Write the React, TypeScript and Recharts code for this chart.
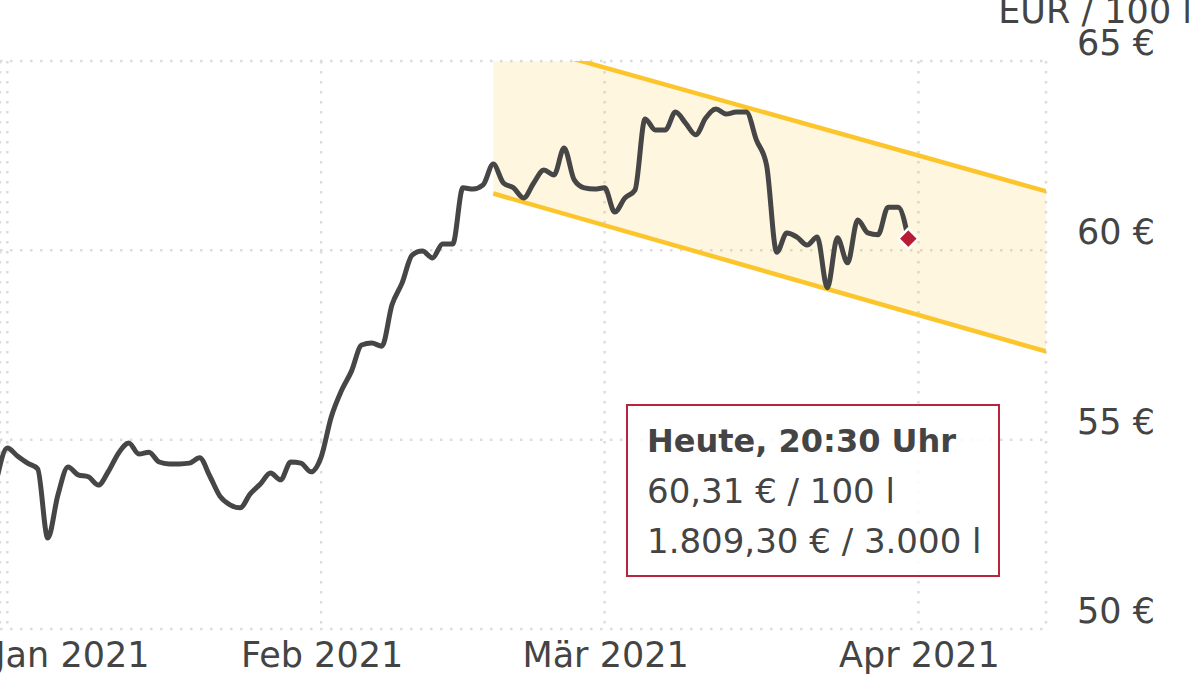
import React from "react";
import { ComposedChart, Line, Area, XAxis, YAxis, CartesianGrid, Tooltip } from "recharts";

// Tag 0 = 1. Jan 2021, eine Messung pro Tag
const firstDay = -1;
const prices = [
  54.0, 54.78, 54.57, 54.38, 54.23, 52.4, 53.54, 54.28, 54.07, 54.02,
  53.8, 54.17, 54.65, 54.91, 54.62, 54.67, 54.41, 54.36, 54.36, 54.38,
  54.52, 54.04, 53.51, 53.28, 53.2, 53.57, 53.83, 54.12, 53.94, 54.41,
  54.38, 54.15, 54.54, 55.6, 56.29, 56.81, 57.5, 57.55, 57.47, 58.56,
  59.14, 59.88, 59.98, 59.8, 60.17, 60.17, 61.65, 61.62, 61.73, 62.28,
  61.78, 61.65, 61.38, 61.78, 62.12, 61.99, 62.7, 61.86, 61.65, 61.62,
  61.65, 61.01, 61.38, 61.59, 63.47, 63.18, 63.18, 63.65, 63.36, 63.05,
  63.5, 63.73, 63.6, 63.65, 63.65, 62.91, 62.25, 59.95, 60.46, 60.35,
  60.14, 60.35, 59.01, 60.33, 59.67, 60.8, 60.46, 60.41, 61.14, 61.14,
  60.31,
];
const lastTime = "20:30";
const litres = 3000;

const monthTicks = [0, 31, 59, 90];
const monthLabels = ["Jan 2021", "Feb 2021", "Mär 2021", "Apr 2021"];
const priceTicks = [50, 55, 60, 65];

// Trendkanal
const channelDays = [48, 103];
const channelLow = [61.5, 57.3];
const channelHigh = [65.65, 61.53];

const FONT = "DejaVu Sans";
const TEXT = "#444";
const YELLOW = "#fcc52c";

const lastDay = firstDay + prices.length - 1;
const lastPrice = prices[prices.length - 1];

const rows: any[] = prices.map((price, i) => ({ day: firstDay + i, price }));
channelDays.forEach((day, i) => {
  let row = rows.find((r) => r.day === day);
  if (!row) {
    row = { day };
    rows.push(row);
  }
  row.low = channelLow[i];
  row.high = channelHigh[i];
  row.band = [channelLow[i], channelHigh[i]];
});
rows.sort((a, b) => a.day - b.day);
const lastIndex = rows.findIndex((r) => r.day === lastDay);

const fmt = (n: number, decimals: number) => {
  const [i, f] = n.toFixed(decimals).split(".");
  const int = i.replace(/\B(?=(\d{3})+(?!\d))/g, ".");
  return f ? int + "," + f : int;
};

const MonthTick = (props: any) => {
  const { x, y, payload } = props;
  const i = monthTicks.indexOf(payload.value);
  const first = i === 0;
  return (
    <text
      x={first ? x - 12 : x + 1}
      y={y + 38}
      textAnchor={first ? "start" : "middle"}
      fontSize={35}
      fontFamily={FONT}
      fill={TEXT}
    >
      {monthLabels[i]}
    </text>
  );
};

const PriceTick = (props: any) => {
  const { x, y, payload } = props;
  return (
    <text x={x + 31} y={y - 6} textAnchor="start" fontSize={35} fontFamily={FONT} fill={TEXT}>
      {payload.value} €
    </text>
  );
};

const UnitLabel = (props: any) => {
  const vb = props.viewBox || { x: 1046, y: 61 };
  return (
    <text x={vb.x + 146} y={vb.y - 38} textAnchor="end" fontSize={35} fontFamily={FONT} fill={TEXT}>
      EUR / 100 l
    </text>
  );
};

const LastDot = (props: any) => {
  const { cx, cy, payload, index } = props;
  if (!payload || payload.day !== lastDay || cx == null || cy == null) return <g key={index} />;
  const r = 10;
  return (
    <path
      key={index}
      d={`M${cx},${cy - r}L${cx + r},${cy}L${cx},${cy + r}L${cx - r},${cy}Z`}
      fill="#b71c33"
      stroke="#fff"
      strokeWidth={2.5}
    />
  );
};

const InfoBox = () => (
  <div
    style={{
      width: 374,
      height: 173,
      boxSizing: "border-box",
      border: "2px solid #b8243c",
      background: "rgba(255,255,255,0.82)",
      padding: "10px 19px",
      fontFamily: FONT,
      fontSize: 34,
      lineHeight: "50px",
      color: TEXT,
      whiteSpace: "nowrap",
    }}
  >
    <div style={{ fontWeight: "bold", fontSize: 32 }}>Heute, {lastTime} Uhr</div>
    <div>{fmt(lastPrice, 2)} € / 100 l</div>
    <div>
      {fmt((lastPrice * litres) / 100, 2)} € / {fmt(litres, 0)} l
    </div>
  </div>
);

export default function App() {
  return (
    <div style={{ position: "absolute", left: 0, top: 0 }}>
      <ComposedChart
        width={1200}
        height={688}
        data={rows}
        margin={{ top: 61, right: 0, bottom: 0, left: 0 }}
        style={{ fontFamily: FONT }}
      >
        <CartesianGrid stroke="#dcdcdc" strokeWidth={2.5} strokeDasharray="2.5 7.5" />
        <XAxis
          dataKey="day"
          type="number"
          domain={[-0.72, 102.6]}
          ticks={monthTicks}
          interval={0}
          allowDataOverflow
          axisLine={false}
          tickLine={false}
          tickSize={0}
          tickMargin={0}
          height={59}
          tick={<MonthTick />}
        />
        <YAxis
          orientation="right"
          type="number"
          domain={[50, 65]}
          ticks={priceTicks}
          interval={0}
          allowDataOverflow
          axisLine={false}
          tickLine={false}
          tickSize={0}
          tickMargin={0}
          width={154}
          tick={<PriceTick />}
          label={<UnitLabel />}
        />
        <Area
          dataKey="band"
          type="linear"
          fill={YELLOW}
          fillOpacity={0.15}
          stroke="none"
          connectNulls
          activeDot={false}
          isAnimationActive={false}
        />
        <Line dataKey="low" type="linear" stroke={YELLOW} strokeWidth={4.5} dot={false} activeDot={false} connectNulls isAnimationActive={false} />
        <Line dataKey="high" type="linear" stroke={YELLOW} strokeWidth={4.5} dot={false} activeDot={false} connectNulls isAnimationActive={false} />
        <Line
          dataKey="price"
          type="monotone"
          stroke="#464646"
          strokeWidth={5}
          strokeLinejoin="round"
          dot={LastDot}
          activeDot={false}
          isAnimationActive={false}
        />
        <Tooltip
          active
          defaultIndex={lastIndex}
          position={{ x: 626, y: 404 }}
          cursor={false}
          isAnimationActive={false}
          wrapperStyle={{ outline: "none" }}
          content={<InfoBox />}
        />
      </ComposedChart>
    </div>
  );
}
